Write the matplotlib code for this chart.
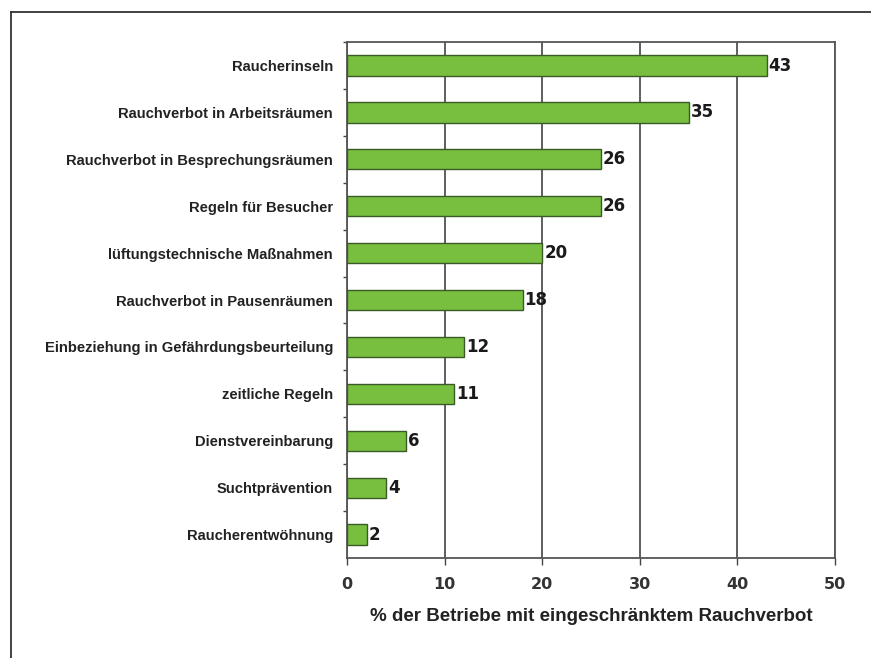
import matplotlib.pyplot as plt
from matplotlib.lines import Line2D

plt.rcParams['font.family'] = ['Liberation Sans', 'DejaVu Sans']

# Daten (von oben nach unten)
kategorien = [
    'Raucherinseln',
    'Rauchverbot in Arbeitsräumen',
    'Rauchverbot in Besprechungsräumen',
    'Regeln für Besucher',
    'lüftungstechnische Maßnahmen',
    'Rauchverbot in Pausenräumen',
    'Einbeziehung in Gefährdungsbeurteilung',
    'zeitliche Regeln',
    'Dienstvereinbarung',
    'Suchtprävention',
    'Raucherentwöhnung',
]
werte = [43, 35, 26, 26, 20, 18, 12, 11, 6, 4, 2]
x_ticks = [0, 10, 20, 30, 40, 50]

fig = plt.figure(figsize=(8.71, 6.58), dpi=100)
ax = fig.add_axes([0.3984, 0.152, 0.5603, 0.784])

pos = list(range(len(kategorien)))[::-1]
ax.barh(pos, werte, height=0.43, color='#78bf3f', edgecolor='#3a5a28', linewidth=1.0, zorder=3)

# Werte an die Balken (Ziffern in DejaVu, sonst zu eng)
for p, w in zip(pos, werte):
    ax.text(w + 0.2, p, str(w), va='center', ha='left', fontsize=12, fontweight='bold',
            color='#1a1a1a', family='DejaVu Sans')

ax.set_xlim(0, 50)
ax.set_ylim(-0.5, len(kategorien) - 0.5)
ax.set_xticks(x_ticks)
ax.set_xticklabels([str(t) for t in x_ticks], fontsize=11.5, fontweight='bold', color='#333333',
                   family='DejaVu Sans')
ax.set_yticks(pos)
ax.set_yticklabels(kategorien, fontsize=10.6, fontweight='bold', color='#222222')
ax.tick_params(axis='y', length=0, pad=10)
ax.tick_params(axis='x', length=5, width=1.0, color='#444444', pad=9)

# kleine Striche zwischen den Kategorien
ax.set_yticks([p + 0.5 for p in pos], minor=True)
ax.tick_params(axis='y', which='minor', length=3, width=1.0, color='#444444')

ax.grid(axis='x', color='#333333', linewidth=1.1, zorder=0)
for s in ax.spines.values():
    s.set_color('#555555')
    s.set_linewidth(1.3)

ax.set_xlabel('% der Betriebe mit eingeschränktem Rauchverbot', fontsize=13.5, fontweight='bold',
              color='#222222', labelpad=11)

# Rahmen oben und links
fig.add_artist(Line2D([11/871, 1.0], [1 - 12/658, 1 - 12/658], transform=fig.transFigure, color='#333333', linewidth=1.3))
fig.add_artist(Line2D([11/871, 11/871], [0.0, 1 - 12/658], transform=fig.transFigure, color='#333333', linewidth=1.3))

fig.savefig('out.png', dpi=100)
